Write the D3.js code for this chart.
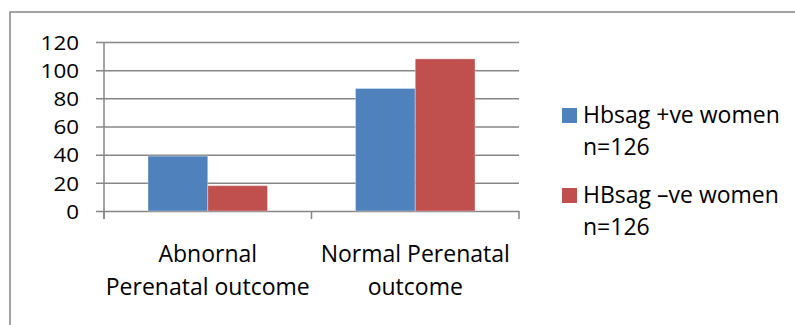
<!DOCTYPE html>
<html>
<head>
<meta charset="utf-8">
<script src="https://cdn.jsdelivr.net/npm/d3@7"></script>
<style>
  html, body { margin: 0; padding: 0; background: #fff; }
  svg { display: block; }
  text { font-family: "Open Sans", "Noto Sans", sans-serif; fill: #000; }
</style>
</head>
<body>
<svg id="chart" width="795" height="325"></svg>
<script>
// Outcome categories (two-line labels) and the two series
const categories = ["Abnornal|Perenatal outcome", "Normal Perenatal|outcome"];
const seriesNames = ["Hbsag +ve women|n=126", "HBsag \u2013ve women|n=126"];
const positiveValues = [39, 87];
const negativeValues = [18, 108];
const yTicks = [0, 20, 40, 60, 80, 100, 120];
const colors = ["#4F81BD", "#C0504D"];

const svg = d3.select("#chart");
const grey = "#868686";
const fontSize = 23;
const tickFontSize = 20;

// Outer chart frame
svg.append("rect")
  .attr("x", 10).attr("y", 12)
  .attr("width", 800).attr("height", 330)
  .attr("fill", "none").attr("stroke", grey).attr("stroke-width", 1.5);

const plot = { left: 104, right: 519, top: 42, bottom: 211 };

const y = d3.scaleLinear().domain([0, 120]).range([plot.bottom, plot.top]);
const x0 = d3.scaleBand().domain(categories).range([plot.left, plot.right]).padding(0);
const x1 = d3.scaleBand().domain([0, 1])
  .range([44, x0.bandwidth() - 44]).padding(0);

// Gridlines with left ticks
const yAxis = d3.axisLeft(y).tickValues(yTicks)
  .tickSize(-(plot.right - plot.left)).tickPadding(25).tickSizeOuter(0);
const gy = svg.append("g").attr("transform", `translate(${plot.left},0)`).call(yAxis);
gy.select(".domain").remove();
gy.selectAll(".tick line").attr("stroke", grey).attr("stroke-width", 1.5)
  .attr("x1", -8);
gy.selectAll(".tick text").attr("font-size", tickFontSize).attr("dy", "0.36em")
  .attr("transform", "scale(1.12,1)")
  .attr("x", -25 / 1.12)
  .style("font-family", "'Open Sans', sans-serif");

// Vertical axis line
svg.append("line")
  .attr("x1", plot.left).attr("x2", plot.left)
  .attr("y1", plot.top).attr("y2", plot.bottom + 8)
  .attr("stroke", grey).attr("stroke-width", 1.5);

// Category boundary ticks below the baseline
const boundaries = [plot.left, plot.left + x0.bandwidth(), plot.right];
svg.selectAll(".ctick").data(boundaries).join("line")
  .attr("x1", d => d).attr("x2", d => d)
  .attr("y1", plot.bottom).attr("y2", plot.bottom + 8)
  .attr("stroke", grey).attr("stroke-width", 1.5);

// Bars
const rows = categories.map((c, i) => ({ cat: c, vals: [positiveValues[i], negativeValues[i]] }));
const groups = svg.selectAll(".grp").data(rows).join("g")
  .attr("transform", d => `translate(${x0(d.cat)},0)`);
groups.selectAll("rect").data(d => d.vals.map((v, s) => ({ v, s }))).join("rect")
  .attr("x", d => x1(d.s))
  .attr("width", x1.bandwidth())
  .attr("y", d => y(d.v))
  .attr("height", d => y(0) - y(d.v))
  .attr("fill", d => colors[d.s])
  .attr("stroke", "rgba(255,255,255,0.35)").attr("stroke-width", 1);

// Category labels
svg.selectAll(".clabel").data(categories).join("text")
  .attr("text-anchor", "middle")
  .attr("font-size", fontSize)
  .attr("x", d => x0(d) + x0.bandwidth() / 2)
  .each(function (d) {
    const lines = d.split("|");
    d3.select(this).selectAll("tspan").data(lines).join("tspan")
      .attr("x", x0(d) + x0.bandwidth() / 2)
      .attr("y", (l, i) => 262 + i * 33)
      .text(l => l);
  });

// Legend
const legend = svg.append("g");
seriesNames.forEach((name, i) => {
  const top = 108 + i * 80;
  legend.append("rect").attr("x", 562).attr("y", top)
    .attr("width", 15).attr("height", 15).attr("fill", colors[i]);
  const t = legend.append("text").attr("font-size", fontSize);
  name.split("|").forEach((l, j) => {
    t.append("tspan").attr("x", 583).attr("y", top + 15 + j * 32).text(l);
  });
});
</script>
</body>
</html>
